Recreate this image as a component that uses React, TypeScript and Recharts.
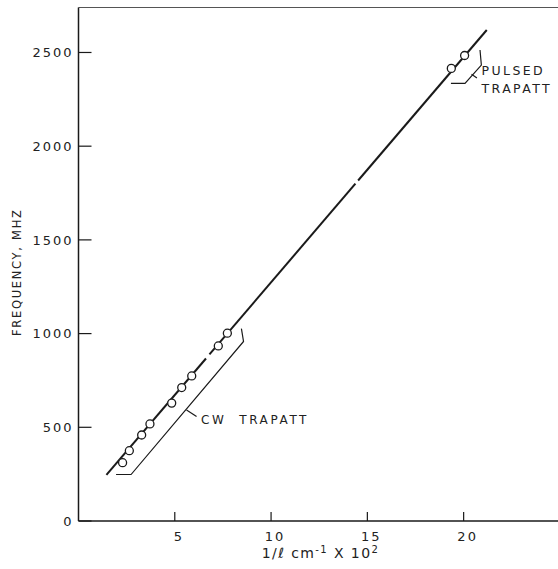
import { ComposedChart, XAxis, YAxis, Scatter, ReferenceLine, ReferenceDot } from "recharts"

const X_MAX = 24.9
const Y_MAX = 2740
const X_TICKS = [5, 10, 15, 20]
const Y_TICKS = [0, 500, 1000, 1500, 2000, 2500]

// measured oscillation frequency vs reciprocal length (cm^-1 x 10^2)
const CW_X = [2.29, 2.64, 3.28, 3.71, 4.84, 5.36, 5.88, 7.26, 7.73]
const CW_Y = [311, 375, 459, 518, 629, 712, 774, 934, 1002]
const PULSED_X = [19.36, 20.05]
const PULSED_Y = [2415, 2484]

// straight-line fit, drawn in three pieces
const FIT_SEGMENTS = [
  { x: [1.45, 6.62], y: [246, 867] },
  { x: [6.8, 14.38], y: [889, 1800] },
  { x: [14.52, 21.2], y: [1817, 2620] },
]

// brackets grouping the two data sets
const CW_BRACKET_X = [1.95, 2.73, 8.57, 8.46]
const CW_BRACKET_Y = [248, 248, 958, 1027]
const CW_LEADER_X = [5.61, 6.13]
const CW_LEADER_Y = [592, 558]
const PULSED_BRACKET_X = [19.34, 20.07, 20.92, 20.85]
const PULSED_BRACKET_Y = [2335, 2335, 2433, 2513]
const PULSED_LEADER_X = [20.41, 20.69]
const PULSED_LEADER_Y = [2384, 2364]

const toPoints = (xs: number[], ys: number[]) => xs.map((x, i) => ({ x, y: ys[i] }))

const INK = "#1a1a1a"
const FONT = "'DejaVu Sans', sans-serif"
const Y_TICK_LEN = 13
const X_TICK_LEN = 9

const Circle = (p: any) => (
  <circle cx={p.cx} cy={p.cy} r={4} fill="#fff" stroke={INK} strokeWidth={1.3} />
)
const NoDot = () => <g />

// tick marks point into the plot, labels stay outside
const YTick = (p: any) => (
  <g>
    <rect x={p.x + 6} y={p.y - 0.6} width={Y_TICK_LEN} height={1.2} fill={INK} />
    <text x={p.x + 1} y={p.y} dy="0.36em" textAnchor="end" fontFamily={FONT} fontSize={13} letterSpacing={2} fill="#222">
      {p.payload.value}
    </text>
  </g>
)

const XTick = (p: any) => (
  <g>
    <rect x={p.x - 0.6} y={521 - X_TICK_LEN} width={1.2} height={X_TICK_LEN} fill={INK} />
    <text x={p.x + 4} y={p.y} dy="0.71em" textAnchor="middle" fontFamily={FONT} fontSize={13} letterSpacing={2} fill="#222">
      {p.payload.value}
    </text>
  </g>
)

const Note = ({ x, y, lines, size, spacing }: { x: number; y: number; lines: string[]; size: number; spacing: number }) => (
  <ReferenceDot
    x={x}
    y={y}
    r={0}
    shape={(p: any) => (
      <text x={p.cx} y={p.cy} fontFamily={FONT} fontSize={size} letterSpacing={spacing} fill="#222" style={{ whiteSpace: "pre" }}>
        {lines.map((t, i) => (
          <tspan key={t} x={p.cx} dy={i === 0 ? "0.36em" : "1.45em"}>
            {t}
          </tspan>
        ))}
      </text>
    )}
  />
)

export default function App() {
  return (
    <div style={{ position: "absolute", left: 0, top: 0, background: "#fff" }}>
      <ComposedChart width={558} height={569} margin={{ top: 7.5, right: 0, bottom: 18, left: 0 }}>
        <XAxis
          type="number"
          dataKey="x"
          domain={[0, X_MAX]}
          ticks={X_TICKS}
          height={30}
          tickSize={0}
          tickMargin={11}
          tick={XTick}
          tickLine={false}
          axisLine={{ stroke: INK, strokeWidth: 1.5 }}
          label={{
            content: ({ viewBox }: any) => (
              <text x={viewBox.x + 242} y={viewBox.y + 37} textAnchor="middle" fontFamily={FONT} fontSize={14} letterSpacing={1.4} fill="#222">
                1/ℓ cm
                <tspan dy={-5} fontSize={10}>-1</tspan>
                <tspan dy={5}> X 10</tspan>
                <tspan dy={-5} fontSize={10}>2</tspan>
              </text>
            ),
          }}
        />
        <YAxis
          type="number"
          dataKey="y"
          domain={[0, Y_MAX]}
          ticks={Y_TICKS}
          width={78.5}
          tickSize={0}
          tickMargin={6}
          tick={YTick}
          tickLine={false}
          axisLine={{ stroke: INK, strokeWidth: 1.5 }}
          label={{
            content: ({ viewBox }: any) => {
              const cx = viewBox.x + 17
              const cy = viewBox.y + viewBox.height / 2 + 8
              return (
                <text x={cx} y={cy} transform={`rotate(-90 ${cx} ${cy})`} textAnchor="middle" dy="0.36em" fontFamily={FONT} fontSize={11.5} letterSpacing={1.7} fill="#222">
                  FREQUENCY, MHZ
                </text>
              )
            },
          }}
        />
        <ReferenceLine y={Y_MAX} stroke="#555" strokeWidth={1} />
        {FIT_SEGMENTS.map((s, i) => (
          <ReferenceLine
            key={i}
            segment={toPoints(s.x, s.y)}
            stroke={INK}
            strokeWidth={2}
          />
        ))}
        <Scatter data={toPoints(CW_BRACKET_X, CW_BRACKET_Y)} line={{ stroke: INK, strokeWidth: 1.2 }} shape={NoDot} isAnimationActive={false} />
        <Scatter data={toPoints(CW_LEADER_X, CW_LEADER_Y)} line={{ stroke: INK, strokeWidth: 1.2 }} shape={NoDot} isAnimationActive={false} />
        <Scatter data={toPoints(PULSED_BRACKET_X, PULSED_BRACKET_Y)} line={{ stroke: INK, strokeWidth: 1.2 }} shape={NoDot} isAnimationActive={false} />
        <Scatter data={toPoints(PULSED_LEADER_X, PULSED_LEADER_Y)} line={{ stroke: INK, strokeWidth: 1.2 }} shape={NoDot} isAnimationActive={false} />
        <Scatter data={toPoints(CW_X, CW_Y)} shape={Circle} isAnimationActive={false} />
        <Scatter data={toPoints(PULSED_X, PULSED_Y)} shape={Circle} isAnimationActive={false} />
        <Note x={6.36} y={539} lines={["CW  TRAPATT"]} size={12} spacing={2.6} />
        <Note x={20.93} y={2402} lines={["PULSED", "TRAPATT"]} size={12.5} spacing={2.4} />
      </ComposedChart>
    </div>
  )
}
